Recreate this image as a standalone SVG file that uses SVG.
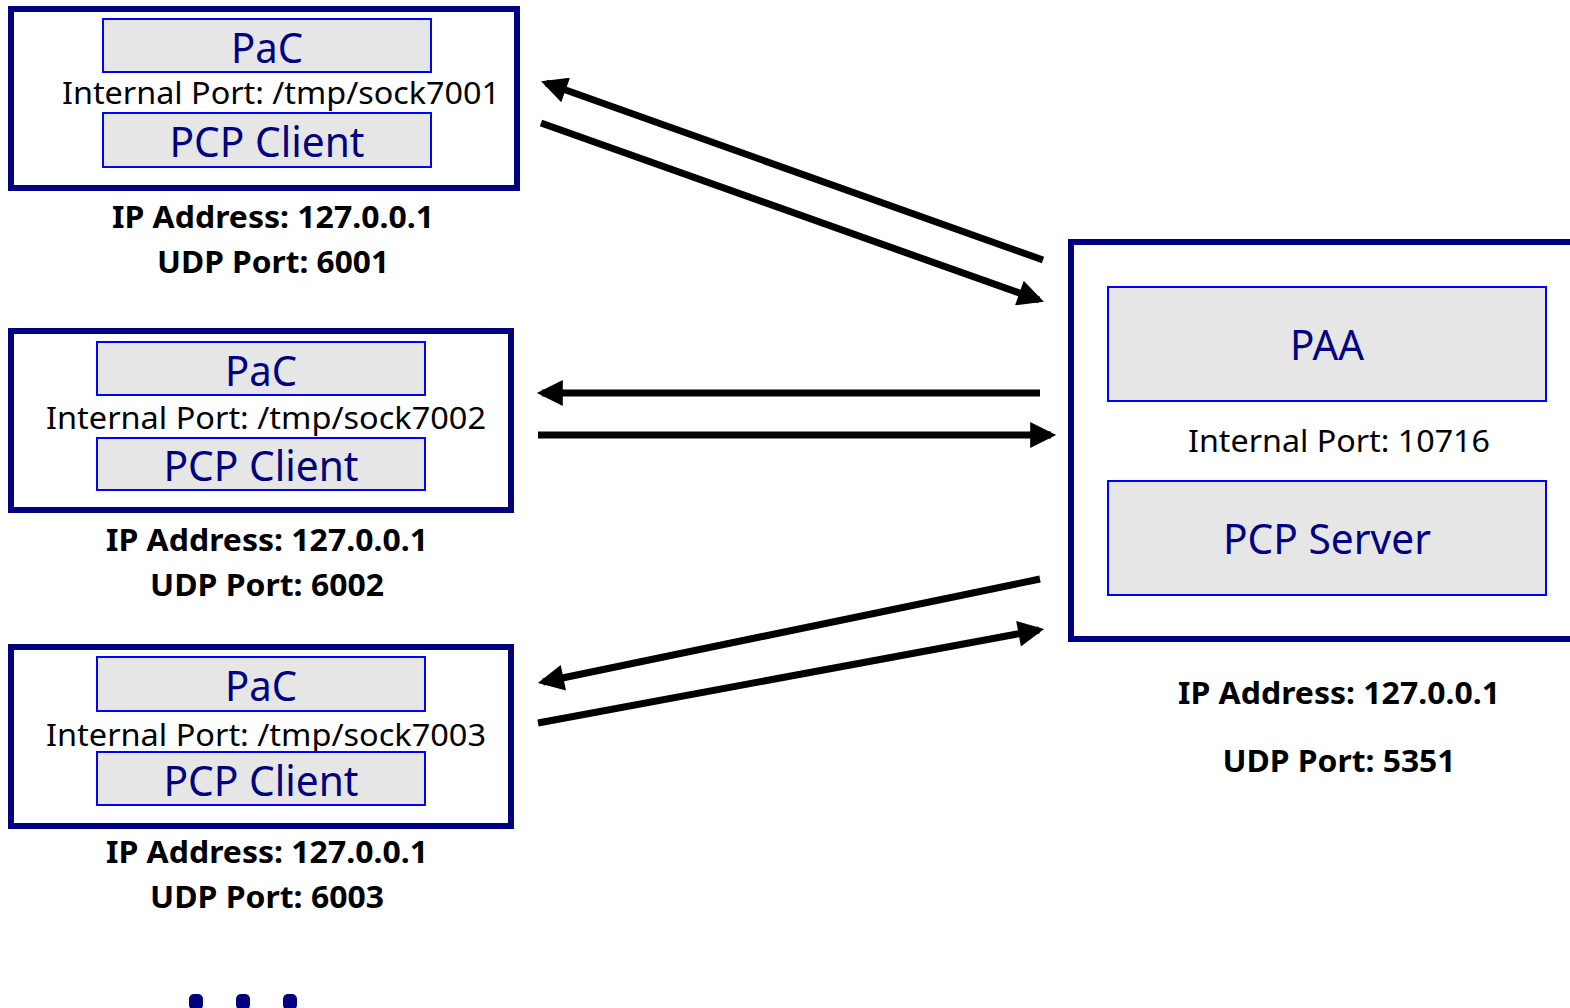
<svg xmlns="http://www.w3.org/2000/svg" width="1570" height="1008" viewBox="0 0 1570 1008">
  <style>
    .host { fill: #ffffff; stroke: #000080; stroke-width: 6; }
    .module { fill: #e6e6e6; stroke: #0000ff; stroke-width: 2; }
    .mname { font-family: "Noto Sans", "Open Sans", sans-serif; font-size: 41px; fill: #000080; text-anchor: middle; }
    .port { font-family: "Noto Sans", "Open Sans", sans-serif; font-size: 31px; fill: #000000; text-anchor: middle; }
    .addr { font-family: "Noto Sans", "Open Sans", sans-serif; font-size: 31px; font-weight: bold; fill: #000000; text-anchor: middle; }
    .flow { stroke: #000000; stroke-width: 7; fill: none; marker-end: url(#head); }
  </style>
  <defs>
    <marker id="head" viewBox="0 0 10 10" refX="8" refY="5" markerWidth="28" markerHeight="26" markerUnits="userSpaceOnUse" orient="auto">
      <path d="M0,0 L10,5 L0,10 z" fill="#000000"/>
    </marker>
  </defs>
  <rect width="1570" height="1008" fill="#ffffff"/>

  <!-- client host 1 -->
  <g id="client1">
    <rect class="host" x="11" y="9" width="506" height="179"/>
    <rect class="module" x="103" y="19" width="328" height="53"/>
    <text class="mname" x="267" y="63" textLength="72" lengthAdjust="spacingAndGlyphs">PaC</text>
    <text class="port" x="281" y="104" textLength="438" lengthAdjust="spacingAndGlyphs">Internal Port: /tmp/sock7001</text>
    <rect class="module" x="103" y="113" width="328" height="54"/>
    <text class="mname" x="267" y="157" textLength="195" lengthAdjust="spacingAndGlyphs">PCP Client</text>
    <text class="addr" x="273" y="228" textLength="322" lengthAdjust="spacingAndGlyphs">IP Address: 127.0.0.1</text>
    <text class="addr" x="273" y="273" textLength="232" lengthAdjust="spacingAndGlyphs">UDP Port: 6001</text>
  </g>

  <!-- client host 2 -->
  <g id="client2">
    <rect class="host" x="11" y="331" width="500" height="179"/>
    <rect class="module" x="97" y="342" width="328" height="53"/>
    <text class="mname" x="261" y="386" textLength="72" lengthAdjust="spacingAndGlyphs">PaC</text>
    <text class="port" x="266" y="429" textLength="440" lengthAdjust="spacingAndGlyphs">Internal Port: /tmp/sock7002</text>
    <rect class="module" x="97" y="438" width="328" height="52"/>
    <text class="mname" x="261" y="481" textLength="195" lengthAdjust="spacingAndGlyphs">PCP Client</text>
    <text class="addr" x="267" y="551" textLength="322" lengthAdjust="spacingAndGlyphs">IP Address: 127.0.0.1</text>
    <text class="addr" x="267" y="596" textLength="234" lengthAdjust="spacingAndGlyphs">UDP Port: 6002</text>
  </g>

  <!-- client host 3 -->
  <g id="client3">
    <rect class="host" x="11" y="647" width="500" height="179"/>
    <rect class="module" x="97" y="657" width="328" height="54"/>
    <text class="mname" x="261" y="701" textLength="72" lengthAdjust="spacingAndGlyphs">PaC</text>
    <text class="port" x="266" y="746" textLength="440" lengthAdjust="spacingAndGlyphs">Internal Port: /tmp/sock7003</text>
    <rect class="module" x="97" y="752" width="328" height="53"/>
    <text class="mname" x="261" y="796" textLength="195" lengthAdjust="spacingAndGlyphs">PCP Client</text>
    <text class="addr" x="267" y="863" textLength="322" lengthAdjust="spacingAndGlyphs">IP Address: 127.0.0.1</text>
    <text class="addr" x="267" y="908" textLength="234" lengthAdjust="spacingAndGlyphs">UDP Port: 6003</text>
  </g>

  <!-- more clients -->
  <g id="more" fill="#000080">
    <rect x="189" y="994" width="14" height="16" rx="5"/>
    <rect x="236" y="994" width="14" height="16" rx="5"/>
    <rect x="283" y="994" width="14" height="16" rx="5"/>
  </g>

  <!-- server host -->
  <g id="server">
    <rect class="host" x="1071" y="242" width="520" height="397"/>
    <rect class="module" x="1108" y="287" width="438" height="114"/>
    <text class="mname" x="1327" y="360" textLength="74" lengthAdjust="spacingAndGlyphs">PAA</text>
    <text class="port" x="1339" y="452" textLength="302" lengthAdjust="spacingAndGlyphs">Internal Port: 10716</text>
    <rect class="module" x="1108" y="481" width="438" height="114"/>
    <text class="mname" x="1327" y="554" textLength="208" lengthAdjust="spacingAndGlyphs">PCP Server</text>
    <text class="addr" x="1339" y="704" textLength="322" lengthAdjust="spacingAndGlyphs">IP Address: 127.0.0.1</text>
    <text class="addr" x="1339" y="772" textLength="233" lengthAdjust="spacingAndGlyphs">UDP Port: 5351</text>
  </g>

  <!-- request / response flows -->
  <g id="connectors">
    <line class="flow" x1="1043" y1="260" x2="546" y2="83"/>
    <line class="flow" x1="541" y1="123" x2="1039" y2="300"/>
    <line class="flow" x1="1040" y1="393" x2="542" y2="393"/>
    <line class="flow" x1="538" y1="435" x2="1051" y2="435"/>
    <line class="flow" x1="1040" y1="579" x2="543" y2="682"/>
    <line class="flow" x1="538" y1="723" x2="1039" y2="630"/>
  </g>
</svg>
